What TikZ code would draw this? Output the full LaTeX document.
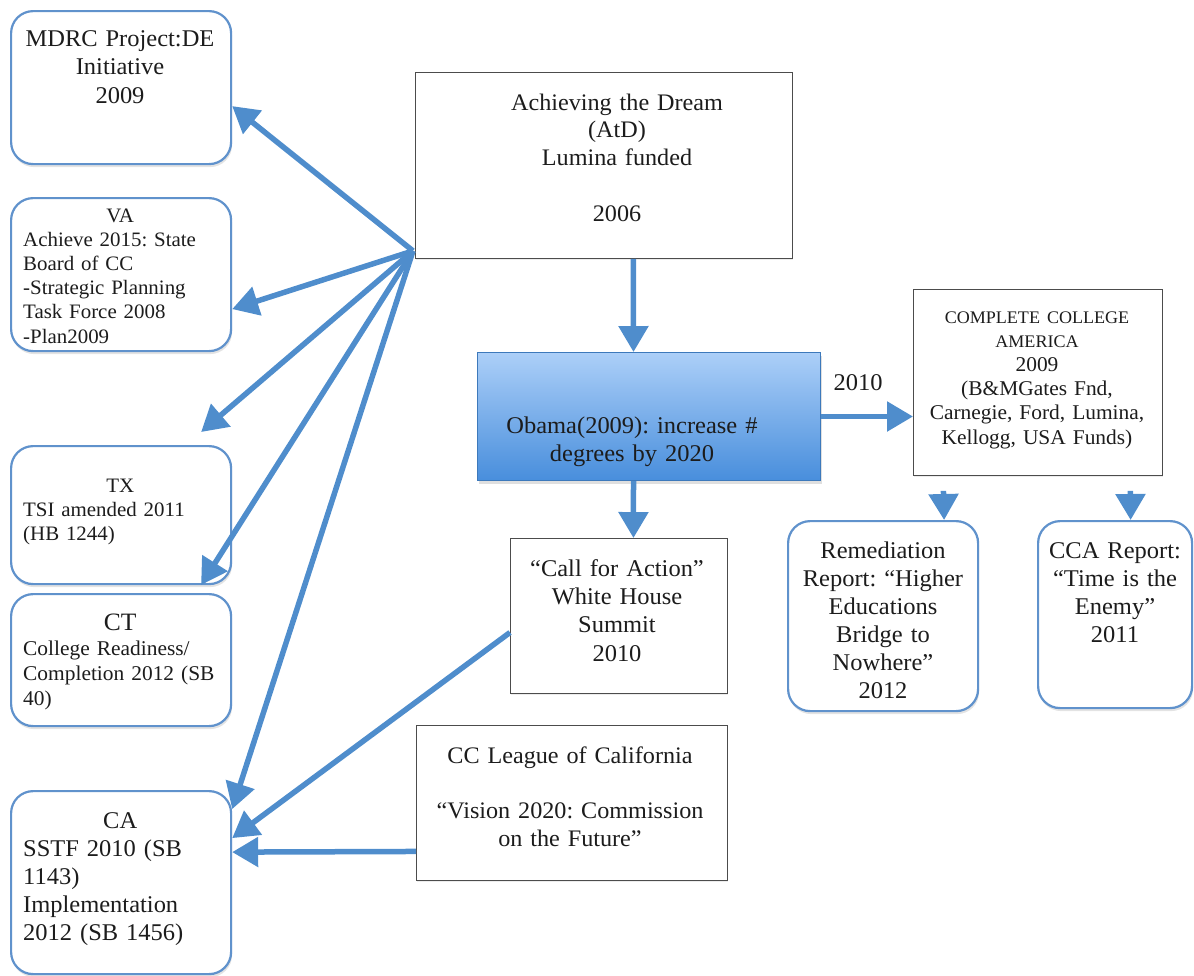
\documentclass[tikz,border=0pt]{standalone}
\usepackage{fontspec}
\setmainfont{Liberation Serif}[FakeStretch=1.02]
\usetikzlibrary{arrows.meta,shadows,calc}
\definecolor{arrowblue}{RGB}{79,141,204}
\definecolor{boxblue}{RGB}{96,146,204}
\definecolor{gradtop}{RGB}{172,207,248}
\definecolor{gradbot}{RGB}{72,142,220}
\definecolor{txtcol}{RGB}{28,28,28}
\newcommand{\fs}[2]{\fontsize{#1}{#2}\selectfont\frenchspacing}
\begin{document}
\begin{tikzpicture}[x=1pt,y=-1pt,
  rbox/.style={draw=boxblue, line width=2.2pt, rounded corners=22pt, fill=white,
    inner sep=0pt, anchor=north west,
    drop shadow={opacity=0.22, shadow xshift=1pt, shadow yshift=-3pt}},
  sbox/.style={draw=black!70, line width=0.9pt, fill=white, inner sep=0pt, anchor=north west,
    drop shadow={opacity=0.15, shadow xshift=1pt, shadow yshift=-2pt}},
  gbox/.style={draw=gradbot!85!black, line width=1pt, top color=gradtop, bottom color=gradbot,
    inner sep=0pt, anchor=north west,
    drop shadow={opacity=0.25, shadow xshift=1.5pt, shadow yshift=-3pt}},
  txt/.style={inner sep=0pt, text=txtcol, anchor=north, align=center},
  ltxt/.style={inner sep=0pt, text=txtcol, anchor=north west, align=left, text width=205pt},
  conn/.style={draw=arrowblue, line width=5.5pt, -{Triangle[length=26pt,width=29pt]}},
]
\useasboundingbox (0,0) rectangle (1194,975);

% boxes
\node[rbox, minimum width=220pt, minimum height=153pt] (mdrc) at (10,10) {};
\node[rbox, minimum width=220pt, minimum height=153pt] (va) at (10,197) {};
\node[rbox, minimum width=220pt, minimum height=138pt] (tx) at (10,445) {};
\node[rbox, minimum width=220pt, minimum height=132pt] (ct) at (10,593) {};
\node[rbox, minimum width=220pt, minimum height=183pt] (ca) at (10,790) {};
\node[sbox, minimum width=377pt, minimum height=186pt] (atd) at (415,72) {};
\node[gbox, minimum width=343pt, minimum height=128pt] (obama) at (477,352) {};
\node[sbox, minimum width=249pt, minimum height=186pt] (cca) at (913,289) {};
\node[rbox, minimum width=190pt, minimum height=190pt] (rem) at (787,520) {};
\node[rbox, minimum width=154pt, minimum height=187pt] (ccar) at (1037,520) {};
\node[sbox, minimum width=217pt, minimum height=155pt] (call) at (510,538) {};
\node[sbox, minimum width=311pt, minimum height=155pt] (league) at (416,725) {};

% texts
\node[txt, text width=212pt, font=\fs{24}{28.5}] (mdrct) at (120,26) {\strut MDRC Project:DE\\Initiative\\2009};
\node[ltxt, font=\fs{20.5}{24.2}] (vat) at (23,204.9) {\strut\makebox[194pt]{VA}\\Achieve 2015: State\\Board of CC\\-Strategic Planning\\Task Force 2008\\-Plan2009};
\node[ltxt, font=\fs{20.5}{24}] (txt1) at (23,475) {\strut\makebox[194pt]{TX}\\TSI amended 2011\\(HB 1244)};
\node[ltxt, font=\fs{21}{25}] (ctt) at (23,612.7) {\strut\makebox[194pt]{\fontsize{25}{25}\selectfont CT}\\College Readiness/\\Completion 2012 (SB\\40)};
\node[ltxt, font=\fs{24}{28}] (cat) at (23,808.3) {\strut\makebox[194pt]{CA}\\SSTF 2010 (SB\\1143)\\Implementation\\2012 (SB 1456)};
\node[txt, text width=330pt, font=\fs{23.7}{27.75}] (atdt) at (617,90.4) {\strut Achieving the Dream\\(AtD)\\Lumina funded\\\strut\\2006};
\node[txt, text width=335pt, font=\fs{24}{28}] (obamat) at (632,413.3) {\strut Obama(2009): increase \#\\degrees by 2020};
\node[inner sep=0pt, anchor=base, text=txtcol, font=\fs{24}{28}] (yr) at (858,390) {2010};
\node[txt, text width=245pt, font=\fs{21}{24.2}] (ccat) at (1037,305.9) {\strut{\fontsize{17.7}{24.2}\selectfont COMPLETE COLLEGE}\\{\fontsize{17.7}{24.2}\selectfont AMERICA}\\2009\\(B\&MGates Fnd,\\Carnegie, Ford, Lumina,\\Kellogg, USA Funds)};
\node[txt, text width=186pt, font=\fs{24}{28}] (remt) at (883,538.3) {\strut Remediation\\Report: “Higher\\Educations\\Bridge to\\Nowhere”\\2012};
\node[txt, text width=152pt, font=\fs{24}{28}] (ccart) at (1115,538.3) {\strut CCA Report:\\“Time is the\\Enemy”\\2011};
\node[txt, text width=212pt, font=\fs{24}{28.3}] (callt) at (617,556.1) {\strut “Call for Action”\\White House\\Summit\\2010};
\node[txt, text width=306pt, font=\fs{23.7}{27.7}] (leaguet) at (570,743.4) {\strut CC League of California\\\strut\\“Vision 2020: Commission\\on the Future”};

% connectors
\coordinate (fan) at ($(atd.south west)+(-2,-8)$);
\draw[conn] (fan) -- ([yshift=-18.5pt]mdrc.east);
\draw[conn] (fan) -- ([yshift=-34.5pt]va.east);
\draw[conn] (fan) -- ([shift={(80pt,13pt)}]tx.north);
\draw[conn] (fan) -- ([shift={(80pt,8pt)}]ct.north);
\draw[conn] (fan) -- ([yshift=73.5pt]ca.east);
\draw[conn] ([yshift=-16.5pt]call.west) -- ([yshift=44.5pt]ca.east);
\draw[conn] ([yshift=-48.5pt]league.west) -- ([yshift=30.5pt]ca.east);
\draw[conn] ([xshift=29.5pt]atd.south) -- ([xshift=-15.5pt]obama.north);
\draw[conn] ([xshift=-15.5pt]obama.south) -- ([xshift=14.5pt]call.north);
\draw[conn] (obama.east) -- (obama.east -| cca.west);
\draw[conn] ([shift={(-94.5pt,-15pt)}]cca.south) -- ([xshift=61pt]rem.north);
\draw[conn] ([shift={(92.5pt,-15pt)}]cca.south) -- ([xshift=15.5pt]ccar.north);
\end{tikzpicture}
\end{document}
